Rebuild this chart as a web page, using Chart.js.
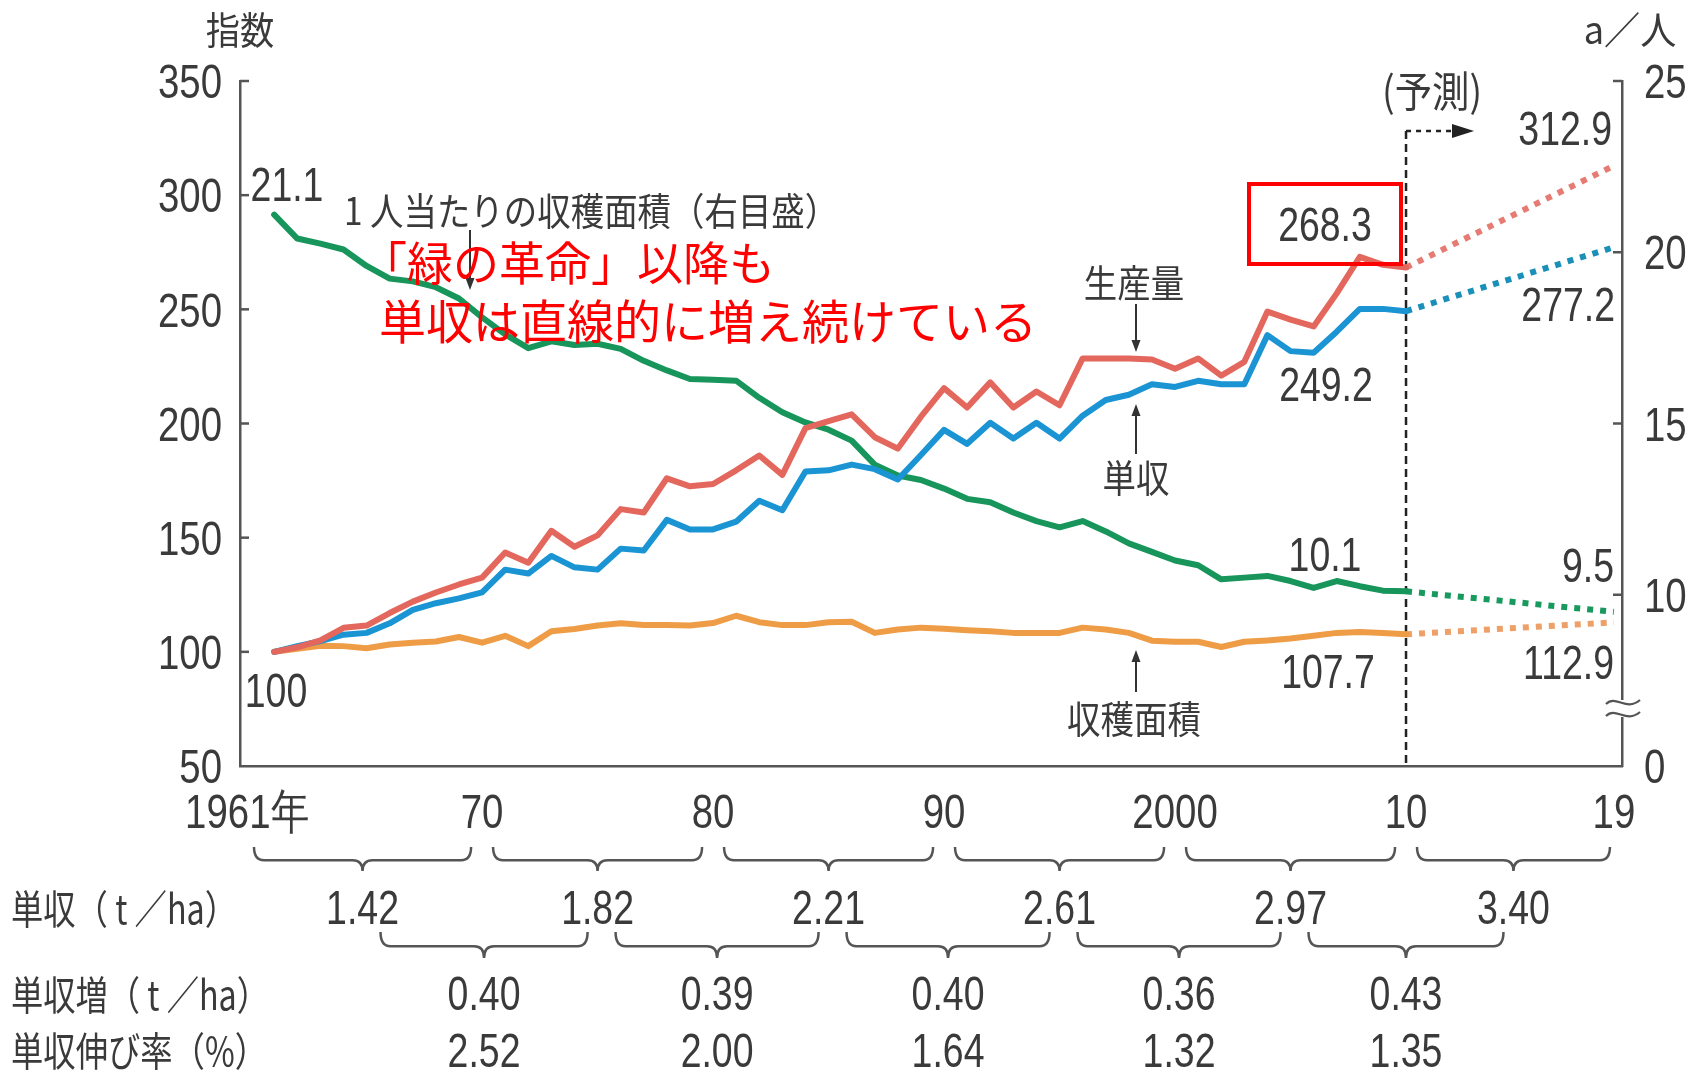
<!DOCTYPE html>
<html lang="ja">
<head>
<meta charset="UTF-8">
<title>穀物の生産量・単収・収穫面積の推移</title>
<script src="https://cdn.jsdelivr.net/npm/chart.js"></script>
<style>
  html, body { margin: 0; padding: 0; background: #fff; }
  canvas { display: block; }
</style>
</head>
<body>
<canvas id="grainChart" width="1696" height="1073"></canvas>
<script>
// ---- data (index 1961 = 100, per-capita area in a/person) ----
const years = [
  1961, 1962, 1963, 1964, 1965, 1966, 1967, 1968, 1969, 1970,
  1971, 1972, 1973, 1974, 1975, 1976, 1977, 1978, 1979, 1980,
  1981, 1982, 1983, 1984, 1985, 1986, 1987, 1988, 1989, 1990,
  1991, 1992, 1993, 1994, 1995, 1996, 1997, 1998, 1999, 2000,
  2001, 2002, 2003, 2004, 2005, 2006, 2007, 2008, 2009, 2010
];
const production = [
  100, 102, 105, 110.5, 111.5, 117, 122, 126, 129.5, 132.5,
  143.5, 139, 153, 146, 151, 162.5, 161, 176, 172.5, 173.5,
  179.5, 186, 177.5, 198, 201, 204, 194, 189, 203, 215.5,
  207, 218, 207, 214, 208, 228.5, 228.5, 228.5, 228, 224,
  228.5, 221, 227, 249, 245.5, 242.5, 257, 273, 269.5, 268.3
];
const yieldIndex = [
  100, 102.5, 104.7, 107.5, 108.3, 112.5, 118.4, 121.3, 123.4, 126,
  136, 134.3, 142, 137, 136, 145.2, 144.4, 157.8, 153.6, 153.6,
  157, 166.2, 162, 179, 179.5, 182, 180, 175.5, 186.2, 197.2,
  191.1, 200.3, 193.4, 200.3, 193.4, 203.4, 210.3, 212.6, 217.2, 216,
  218.7, 217.2, 217.2, 238.7, 231.7, 231, 240.2, 250.2, 250.2, 249.2
];
const harvestArea = [
  100, 101.3, 102.7, 102.5, 101.6, 103.2, 104, 104.5, 106.5, 104,
  107, 102.5, 109, 110, 111.5, 112.5, 111.8, 111.7, 111.5, 112.6,
  115.8, 113, 111.7, 111.7, 113, 113.2, 108.3, 109.8, 110.6, 110.1,
  109.5, 109, 108.3, 108.3, 108.3, 110.6, 109.8, 108.3, 104.9, 104.4,
  104.4, 102.1, 104.4, 105, 105.8, 107, 108.3, 108.7, 108.3, 107.7
];
const areaPerCapita = [
  21.1, 20.4, 20.25, 20.08, 19.6, 19.23, 19.15, 18.98, 18.65, 18.1,
  17.6, 17.2, 17.4, 17.29, 17.33, 17.18, 16.83, 16.55, 16.3, 16.28,
  16.25, 15.75, 15.33, 15.03, 14.82, 14.5, 13.8, 13.48, 13.35, 13.1,
  12.8, 12.7, 12.4, 12.15, 11.97, 12.15, 11.85, 11.5, 11.25, 11.0,
  10.86, 10.45, 10.5, 10.55, 10.4, 10.2, 10.4, 10.25, 10.12, 10.1
];

// forecast (予測) 2010 -> 2019
const forecastYears = [2010, 2019];
const productionForecast = [268.3, 312.9];
const yieldForecast = [249.2, 277.2];
const areaForecast = [107.7, 112.9];
const perCapitaForecast = [10.1, 9.5];

// axis ticks
const yearTicks = [1961, 1970, 1980, 1990, 2000, 2010, 2019];
const yearTickLabels = ['1961年', '70', '80', '90', '2000', '10', '19'];

// table under the chart
const periodYield = ['1.42', '1.82', '2.21', '2.61', '2.97', '3.40'];
const yieldGain = ['0.40', '0.39', '0.40', '0.36', '0.43'];
const yieldGrowth = ['2.52', '2.00', '1.64', '1.32', '1.35'];

// ---- styles ----
const NUM_FONT = '48px "Liberation Sans", Arial, sans-serif';
const JP_FONT = '"Noto Sans CJK JP", "Noto Sans", sans-serif';
const TEXT = '#3a3a3a';
const AXIS = '#555555';
const RED = '#e3675d', BLUE = '#1a94d3', ORANGE = '#ef9c46', GREEN = '#17955b';
const NUM_DY = 4;   // digits sit a bit high when middle-aligned

function solidLine(label, values, color, axis) {
  return {
    label: label,
    data: years.map((y, i) => ({ x: y, y: values[i] })),
    borderColor: color,
    borderWidth: 6,
    pointRadius: 0,
    borderJoinStyle: 'round',
    borderCapStyle: 'round',
    tension: 0,
    fill: false,
    yAxisID: axis
  };
}

function dottedLine(label, values, color, axis) {
  return {
    label: label,
    data: forecastYears.map((y, i) => ({ x: y, y: values[i] })),
    borderColor: color,
    borderWidth: 6,
    borderDash: [6, 7],
    pointRadius: 0,
    tension: 0,
    fill: false,
    yAxisID: axis
  };
}

function drawText(ctx, text, x, y, font, opts) {
  opts = opts || {};
  ctx.save();
  ctx.font = font;
  ctx.fillStyle = opts.color || TEXT;
  ctx.textAlign = opts.align || 'center';
  ctx.textBaseline = 'middle';
  ctx.translate(x, y);
  ctx.scale(opts.sx || 1, 1);
  if (opts.maxWidth) ctx.fillText(text, 0, 0, opts.maxWidth);
  else ctx.fillText(text, 0, 0);
  ctx.restore();
}

function drawNum(ctx, text, x, y, opts) {
  opts = Object.assign({ sx: 0.78 }, opts || {});
  drawText(ctx, text, x, y + NUM_DY, NUM_FONT, opts);
}

function drawArrow(ctx, x, y1, y2) {
  // line from y1 to y2, head at y2
  const dir = y2 > y1 ? 1 : -1;
  ctx.save();
  ctx.strokeStyle = '#333';
  ctx.fillStyle = '#333';
  ctx.lineWidth = 2;
  ctx.beginPath();
  ctx.moveTo(x, y1);
  ctx.lineTo(x, y2 - dir * 8);
  ctx.stroke();
  ctx.beginPath();
  ctx.moveTo(x, y2);
  ctx.lineTo(x - 4.5, y2 - dir * 12);
  ctx.lineTo(x + 4.5, y2 - dir * 12);
  ctx.closePath();
  ctx.fill();
  ctx.restore();
}

function drawBrace(ctx, x1, x2, yTop, h) {
  const mid = (x1 + x2) / 2;
  const yb = yTop + h * 0.55;
  const r = 10;
  ctx.beginPath();
  ctx.moveTo(x1, yTop);
  ctx.quadraticCurveTo(x1, yb, x1 + r, yb);
  ctx.lineTo(mid - r, yb);
  ctx.quadraticCurveTo(mid, yb, mid, yTop + h);
  ctx.quadraticCurveTo(mid, yb, mid + r, yb);
  ctx.lineTo(x2 - r, yb);
  ctx.quadraticCurveTo(x2, yb, x2, yTop);
  ctx.stroke();
}

const decor = {
  id: 'decor',
  beforeDatasetsDraw(chart) {
    const { ctx, chartArea, scales } = chart;
    const xf = scales.x.getPixelForValue(2010);
    ctx.save();
    ctx.strokeStyle = '#222';
    ctx.lineWidth = 2.5;
    ctx.setLineDash([8, 5]);
    ctx.beginPath();
    ctx.moveTo(xf, 131);
    ctx.lineTo(xf, chartArea.bottom);
    ctx.stroke();
    ctx.restore();
  },
  afterDraw(chart) {
    const { ctx, chartArea, scales } = chart;
    const x = scales.x, y = scales.y, y1 = scales.y1;

    // inward tick marks + tick labels (condensed, drawn by hand)
    ctx.save();
    ctx.strokeStyle = AXIS;
    ctx.lineWidth = 2.5;
    y.ticks.forEach(t => {
      const py = y.getPixelForValue(t.value);
      drawNum(ctx, String(t.value), chartArea.left - 18, py, { align: 'right', sx: 0.8 });
      if (t.value === y.min) return;
      ctx.beginPath();
      ctx.moveTo(chartArea.left, py);
      ctx.lineTo(chartArea.left + 9, py);
      ctx.stroke();
    });
    y1.ticks.forEach(t => {
      const py = y1.getPixelForValue(t.value);
      const label = t.value === y1.min ? '0' : String(t.value);   // broken axis: bottom is 0
      drawNum(ctx, label, chartArea.right + 22, py, { align: 'left', sx: 0.8 });
      if (t.value === y1.min) return;
      ctx.beginPath();
      ctx.moveTo(chartArea.right - 9, py);
      ctx.lineTo(chartArea.right, py);
      ctx.stroke();
    });
    x.ticks.forEach(t => {
      const i = yearTicks.indexOf(t.value);
      if (i < 0) return;
      // first label sits at the axis origin, as in the printed chart
      const px = i === 0 ? chartArea.left + 7 : x.getPixelForValue(t.value);
      drawNum(ctx, yearTickLabels[i], px, 811, { sx: 0.8 });
    });

    // axis break on right scale
    const bx = chartArea.right;
    ctx.fillStyle = '#fff';
    ctx.fillRect(bx - 3, 700, 6, 17);
    ctx.lineWidth = 2.2;
    [702, 714].forEach(by => {
      ctx.beginPath();
      ctx.moveTo(bx - 16, by + 2);
      ctx.bezierCurveTo(bx - 6, by - 8, bx + 4, by + 10, bx + 18, by - 2);
      ctx.stroke();
    });
    ctx.restore();

    const jpFont = '38px ' + JP_FONT;

    // axis titles
    drawText(ctx, '指数', 240, 30, jpFont, { sx: 0.9 });
    drawText(ctx, 'a／人', 1630, 30, jpFont, { sx: 0.95 });

    // forecast header + arrow
    const xf = x.getPixelForValue(2010);
    drawText(ctx, '(予測)', xf + 26, 91, '42px ' + JP_FONT, { maxWidth: 100 });
    ctx.save();
    ctx.strokeStyle = '#222';
    ctx.fillStyle = '#222';
    ctx.lineWidth = 2.5;
    ctx.setLineDash([5, 5]);
    ctx.beginPath();
    ctx.moveTo(xf, 131);
    ctx.lineTo(xf + 48, 131);
    ctx.stroke();
    ctx.setLineDash([]);
    ctx.beginPath();
    ctx.moveTo(xf + 68, 131);
    ctx.lineTo(xf + 46, 124);
    ctx.lineTo(xf + 46, 138);
    ctx.closePath();
    ctx.fill();
    ctx.restore();

    // value labels
    drawNum(ctx, '21.1', 287, 184);
    drawNum(ctx, '100', 276, 690);
    drawNum(ctx, '268.3', 1325, 224);
    drawNum(ctx, '249.2', 1326, 384);
    drawNum(ctx, '10.1', 1325, 554);
    drawNum(ctx, '107.7', 1328, 671);
    drawNum(ctx, '312.9', 1612, 128, { align: 'right' });
    drawNum(ctx, '277.2', 1615, 304, { align: 'right' });
    drawNum(ctx, '9.5', 1614, 565, { align: 'right' });
    drawNum(ctx, '112.9', 1614, 662, { align: 'right' });

    // red box around 268.3
    ctx.save();
    ctx.strokeStyle = '#ff0000';
    ctx.lineWidth = 4;
    ctx.strokeRect(1249, 184, 152, 80);
    ctx.restore();

    // series labels
    drawText(ctx, '1 人当たりの収穫面積（右目盛）', 344, 211, jpFont, { align: 'left', sx: 0.88 });
    drawArrow(ctx, 470, 230, 290);
    drawText(ctx, '生産量', 1134, 283, jpFont, { sx: 0.88 });
    drawArrow(ctx, 1136, 304, 352);
    drawText(ctx, '単収', 1136, 478, jpFont, { sx: 0.88 });
    drawArrow(ctx, 1136, 454, 404);
    drawText(ctx, '収穫面積', 1134, 719, jpFont, { sx: 0.88 });
    drawArrow(ctx, 1136, 692, 650);

    // red comment
    drawText(ctx, '「緑の革命」以降も', 361, 263, '46px ' + JP_FONT, { align: 'left', color: '#ff0000' });
    drawText(ctx, '単収は直線的に増え続けている', 379, 321, '47px ' + JP_FONT, { align: 'left', color: '#ff0000' });

    // ---- table under the chart ----
    const tx = yearTicks.map(v => x.getPixelForValue(v));
    tx[0] = chartArea.left;   // first period starts at the axis origin
    ctx.save();
    ctx.strokeStyle = '#555';
    ctx.lineWidth = 2.5;
    const tips1 = [];
    for (let i = 0; i < tx.length - 1; i++) {
      const a = tx[i] + (i === 0 ? 14 : 11);
      const b = tx[i + 1] - (i === tx.length - 2 ? 4 : 11);
      drawBrace(ctx, a, b, 847, 24);
      tips1.push((a + b) / 2);
    }
    const tips2 = [];
    for (let i = 0; i < tips1.length - 1; i++) {
      const a = tips1[i] + 18;
      const b = tips1[i + 1] - 10;
      drawBrace(ctx, a, b, 932, 26);
      tips2.push((a + b) / 2);
    }
    ctx.restore();

    const rowFont = '40px ' + JP_FONT;
    drawText(ctx, '単収（ t ／ha）', 11, 909, rowFont, { align: 'left', maxWidth: 226 });
    drawText(ctx, '単収増（ t ／ha）', 11, 995, rowFont, { align: 'left', maxWidth: 258 });
    drawText(ctx, '単収伸び率（%）', 11, 1051, rowFont, { align: 'left', maxWidth: 256 });

    periodYield.forEach((v, i) => drawNum(ctx, v, tips1[i], 907));
    yieldGain.forEach((v, i) => drawNum(ctx, v, tips2[i], 993));
    yieldGrowth.forEach((v, i) => drawNum(ctx, v, tips2[i], 1050));
  }
};

const ctx = document.getElementById('grainChart').getContext('2d');
new Chart(ctx, {
  type: 'line',
  data: {
    datasets: [
      solidLine('生産量', production, RED, 'y'),
      solidLine('単収', yieldIndex, BLUE, 'y'),
      solidLine('収穫面積', harvestArea, ORANGE, 'y'),
      solidLine('1人当たりの収穫面積', areaPerCapita, GREEN, 'y1'),
      dottedLine('生産量（予測）', productionForecast, '#e57b73', 'y'),
      dottedLine('単収（予測）', yieldForecast, '#1a90b8', 'y'),
      dottedLine('収穫面積（予測）', areaForecast, '#eda067', 'y'),
      dottedLine('1人当たりの収穫面積（予測）', perCapitaForecast, '#189a5e', 'y1')
    ]
  },
  options: {
    responsive: false,
    animation: false,
    devicePixelRatio: 1,
    layout: { padding: { top: 81, left: 0, right: 0, bottom: 0 } },
    plugins: {
      legend: { display: false },
      tooltip: { enabled: false }
    },
    scales: {
      x: {
        type: 'linear',
        min: 1959.52,
        max: 2019.35,
        grid: { drawOnChartArea: false, drawTicks: false },
        border: { display: true, color: AXIS, width: 2.5 },
        ticks: { display: false, autoSkip: false },
        afterBuildTicks: (s) => { s.ticks = yearTicks.map(v => ({ value: v })); },
        afterFit: (s) => { s.height = 307; }
      },
      y: {
        position: 'left',
        min: 50,
        max: 350,
        grid: { drawOnChartArea: false, drawTicks: false },
        border: { display: true, color: AXIS, width: 2.5 },
        ticks: { display: false, stepSize: 50 },
        afterFit: (s) => { s.width = 240; }
      },
      y1: {
        position: 'right',
        min: 5,
        max: 25,
        grid: { drawOnChartArea: false, drawTicks: false },
        border: { display: true, color: AXIS, width: 2.5 },
        ticks: { display: false, stepSize: 5 },
        afterFit: (s) => { s.width = 74; }
      }
    }
  },
  plugins: [decor]
});
</script>
</body>
</html>
